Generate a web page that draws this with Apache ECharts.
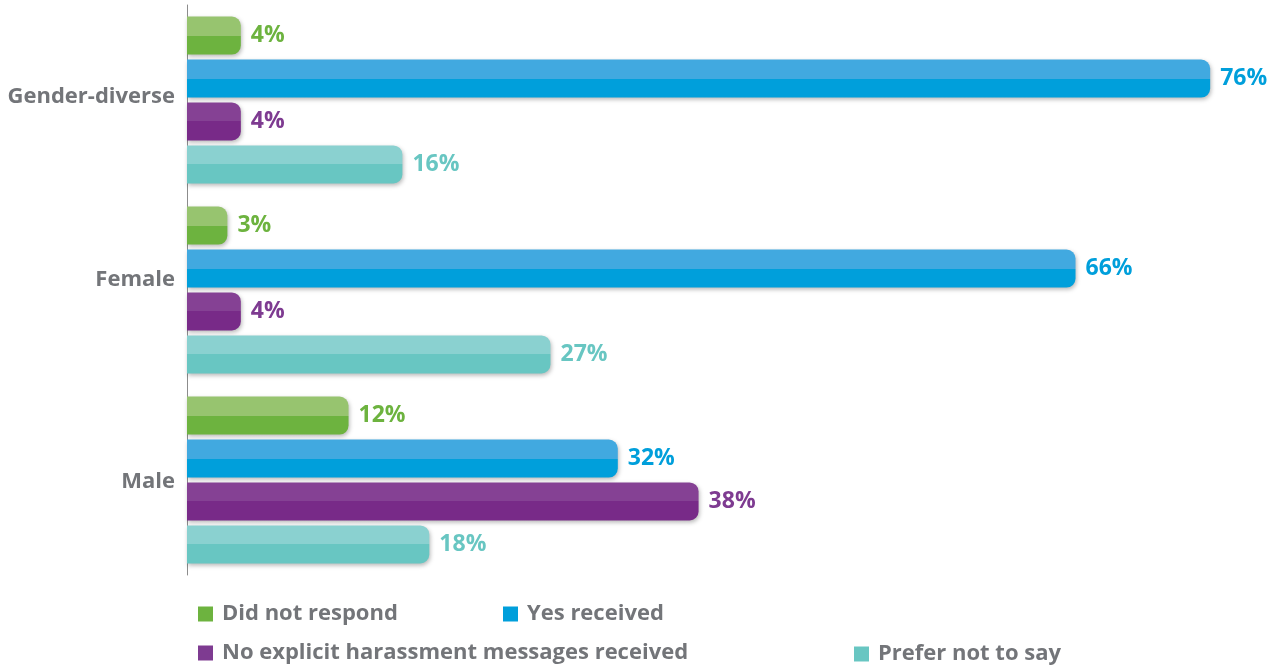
<!DOCTYPE html>
<html>
<head>
<meta charset="utf-8">
<script src="https://cdn.jsdelivr.net/npm/echarts@6/dist/echarts.min.js"></script>
<style>
  html, body { margin: 0; padding: 0; background: #fff; }
  #chart { width: 1273px; height: 666px; }
</style>
</head>
<body>
<div id="chart"></div>
<script>
// Categories, top to bottom
const categories = ['Gender-diverse', 'Female', 'Male'];

// Percentages per group, in category order
const didNotRespond = [4, 3, 12];
const yesReceived = [76, 66, 32];
const noExplicit = [4, 4, 38];
const preferNotToSay = [16, 27, 18];

const seriesNames = [
  'Did not respond',
  'Yes received',
  'No explicit harassment messages received',
  'Prefer not to say'
];

// [light top half, dark bottom half, legend swatch]
const palette = [
  ['#97c46f', '#6db33f', '#6db33f'],
  ['#41a9e0', '#009fdb', '#009fdb'],
  ['#854194', '#782a88', '#7e3b91'],
  ['#8ad1d0', '#68c6c2', '#68c6c2']
];

const FONT = '"Open Sans", Lato, sans-serif';
const GREY = '#737579';

function split(light, dark) {
  return new echarts.graphic.LinearGradient(0, 0, 0, 1, [
    { offset: 0, color: light },
    { offset: 0.5, color: light },
    { offset: 0.5, color: dark },
    { offset: 1, color: dark }
  ]);
}

const values = [didNotRespond, yesReceived, noExplicit, preferNotToSay];

const series = values.map((data, i) => ({
  name: seriesNames[i],
  type: 'bar',
  data: data,
  barWidth: 38,
  barGap: '13%',
  color: palette[i][2],
  itemStyle: {
    color: split(palette[i][0], palette[i][1]),
    borderRadius: [0, 9, 9, 0],
    shadowBlur: 4,
    shadowColor: 'rgba(0,0,0,0.28)',
    shadowOffsetX: 1,
    shadowOffsetY: 2
  },
  label: {
    show: true,
    position: 'right',
    distance: 10,
    formatter: '{c}%',
    color: palette[i][2],
    fontFamily: FONT,
    fontWeight: 'bold',
    fontSize: 23
  },
  emphasis: { disabled: true }
}));

// Each legend entry sits at its own spot below the plot
const legendPos = [
  { left: 193, top: 598 },
  { left: 498, top: 598 },
  { left: 193, top: 637 },
  { left: 849, top: 638 }
];

const legends = seriesNames.map((name, i) => ({
  data: [{ name: name, itemStyle: { color: palette[i][2] } }],
  left: legendPos[i].left,
  top: legendPos[i].top,
  icon: 'rect',
  itemWidth: 15,
  itemHeight: 15,
  itemGap: 0,
  selectedMode: false,
  textStyle: {
    color: GREY,
    fontFamily: FONT,
    fontWeight: 'bold',
    fontSize: 22,
    padding: [0, 0, 0, 4]
  }
}));

// Small per-label vertical nudges for the category names
const labelShift = { 'Gender-diverse': 'up', 'Female': 'up2', 'Male': 'down' };
const catText = { color: GREY, fontFamily: FONT, fontWeight: 'bold', fontSize: 22 };

const chart = echarts.init(document.getElementById('chart'), null, { renderer: 'canvas' });
chart.setOption({
  animation: false,
  backgroundColor: '#ffffff',
  grid: { left: 187, right: 9, top: 5, height: 570, containLabel: false },
  legend: legends,
  xAxis: {
    type: 'value',
    min: 0,
    max: 80,
    show: false
  },
  yAxis: {
    type: 'category',
    data: categories,
    inverse: true,
    axisLine: { show: true, lineStyle: { color: '#8c8c8c', width: 1 } },
    axisTick: { show: false },
    axisLabel: {
      margin: 12,
      formatter: (v) => '{' + labelShift[v] + '|' + v + '}',
      rich: {
        up: Object.assign({ padding: [0, 0, 6, 0] }, catText),
        up2: Object.assign({ padding: [0, 0, 20, 0] }, catText),
        down: Object.assign({ padding: [4, 0, 0, 0] }, catText)
      }
    }
  },
  series: series
});
</script>
</body>
</html>
